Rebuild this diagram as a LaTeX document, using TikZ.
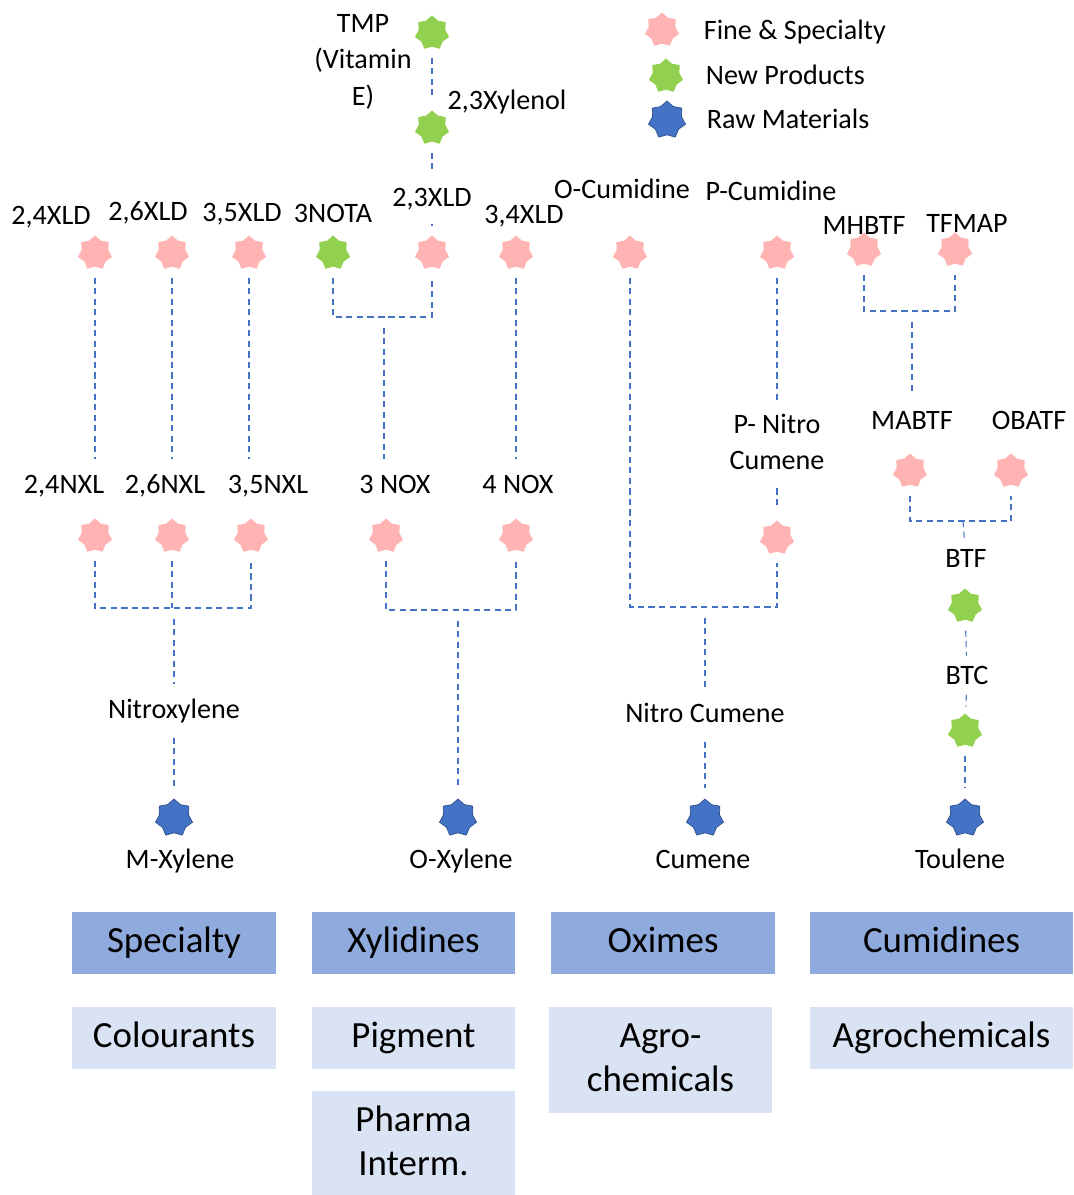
\documentclass[tikz,border=0pt]{standalone}
\usepackage{fontspec}
\setmainfont{Carlito}
\usetikzlibrary{shapes.geometric}
\definecolor{finepink}{HTML}{FFB3B3}
\definecolor{newgreen}{HTML}{92D050}
\definecolor{rawblue}{HTML}{4472C4}
\definecolor{rawedge}{HTML}{2F528F}
\definecolor{linkblue}{HTML}{4472C4}
\definecolor{boxdark}{HTML}{8FAADC}
\definecolor{boxlight}{HTML}{DAE3F3}

\begin{document}
\begin{tikzpicture}[x=0.02cm, y=-0.02cm,
    every node/.style={inner sep=2pt},
    fine/.style={star, star points=7, star point ratio=1.28, minimum size=0.7cm, inner sep=0pt, fill=finepink},
    newp/.style={fine, fill=newgreen},
    raw/.style={fine, minimum size=0.76cm, fill=rawblue, draw=rawedge, line width=0.4pt},
    lbl/.style={font=\fontsize{16}{20.7}\selectfont, align=center, text height=1.15em, text depth=0.25em},
    multi/.style={text height=},
    link/.style={draw=linkblue, line width=0.6pt, dash pattern=on 3.5pt off 2.5pt, shorten <=6pt, shorten >=6pt},
    grp/.style={fill=boxdark, minimum width=4.07cm, minimum height=1.24cm, font=\fontsize{21}{25}\selectfont, align=center, text height=1.28em, text depth=0.25em},
    market/.style={grp, fill=boxlight}]
    \useasboundingbox (0,0) rectangle (1073,1195);

    % legend
    \node[fine] (kF) at (662,30) {};
    \node[lbl, anchor=west] (kFt) at (700,32) {Fine \& Specialty};
    \node[newp] (kN) at (666,76) {};
    \node[lbl, anchor=west] (kNt) at (702,77) {New Products};
    \node[raw] (kR) at (667,120) {};
    \node[lbl, anchor=west] (kRt) at (703,121) {Raw Materials};

    % top
    \node[newp] (TMP) at (432,33) {};
    \node[lbl, multi] (TMPl) at (363,62) {TMP\\(Vitamin\\E)};
    \node[newp] (XOL) at (432,128) {};
    \node[lbl] (XOLl) at (507,102) {2,3Xylenol};

    % xylidines and cumidines
    \node[fine] (X24) at (95,253) {};
    \node[lbl] (X24l) at (51,217) {2,4XLD};
    \node[fine] (X26) at (172,253) {};
    \node[lbl] (X26l) at (148,213) {2,6XLD};
    \node[fine] (X35) at (249,253) {};
    \node[lbl] (X35l) at (242,214) {3,5XLD};
    \node[newp] (T3) at (333,253) {};
    \node[lbl] (T3l) at (333,215) {3NOTA};
    \node[fine] (X23) at (432,253) {};
    \node[lbl] (X23l) at (432,199) {2,3XLD};
    \node[fine] (X34) at (516,253) {};
    \node[lbl] (X34l) at (524,216) {3,4XLD};
    \node[fine] (OC) at (630,253) {};
    \node[lbl] (OCl) at (622,191) {O-Cumidine};
    \node[fine] (PC) at (777,253) {};
    \node[lbl] (PCl) at (771,193) {P-Cumidine};
    \node[fine] (MH) at (864,250) {};
    \node[lbl] (MHl) at (864,227) {MHBTF};
    \node[fine] (TF) at (955,250) {};
    \node[lbl] (TFl) at (967,225) {TFMAP};

    % nitro compounds
    \node[fine] (N24) at (95,536) {};
    \node[lbl] (N24l) at (64,486) {2,4NXL};
    \node[fine] (N26) at (172,536) {};
    \node[lbl] (N26l) at (165,486) {2,6NXL};
    \node[fine] (N35) at (251,536) {};
    \node[lbl] (N35l) at (268,486) {3,5NXL};
    \node[fine] (N3) at (386,536) {};
    \node[lbl] (N3l) at (395,486) {3 NOX};
    \node[fine] (N4) at (516,536) {};
    \node[lbl] (N4l) at (518,486) {4 NOX};
    \node[fine] (PN) at (777,538) {};
    \node[lbl, multi] (PNl) at (777,444) {P- Nitro\\Cumene};
    \node[fine] (MA) at (910,471) {};
    \node[lbl] (MAl) at (912,422) {MABTF};
    \node[fine] (OB) at (1011,471) {};
    \node[lbl] (OBl) at (1029,422) {OBATF};
    \node[newp] (BTF) at (965,606) {};
    \node[lbl] (BTFl) at (966,560) {BTF};
    \node[newp] (BTC) at (965,731) {};
    \node[lbl] (BTCl) at (967,677) {BTC};
    \node[lbl] (NXl) at (174,711) {Nitroxylene};
    \node[lbl] (NCl) at (705,715) {Nitro Cumene};

    % raw materials
    \node[raw] (MX) at (174,818) {};
    \node[lbl] (MXl) at (180,861) {M-Xylene};
    \node[raw] (OX) at (458,818) {};
    \node[lbl] (OXl) at (461,861) {O-Xylene};
    \node[raw] (CU) at (705,818) {};
    \node[lbl] (CUl) at (703,861) {Cumene};
    \node[raw] (TO) at (965,818) {};
    \node[lbl] (TOl) at (960,861) {Toulene};

    \coordinate (Xb) at (384,317);
    \coordinate (Nb) at (174,608);
    \coordinate (Ob) at (458,610);
    \coordinate (Cb) at (705,607);
    \coordinate (Mb) at (912,311);
    \coordinate (Bb) at (963,521);

    % links
    \draw[link] (TMP) -- (XOL);
    \draw[link] (XOL) -- (X23l);
    \draw[link] (X23l) -- (X23);
    \draw[link] (X24) -- (X24 |- N24l.north);
    \draw[link] (X26) -- (X26 |- N26l.north);
    \draw[link] (X35) -- (X35 |- N35l.north);
    \draw[link] (T3) |- (Xb) -| (X23);
    \draw[link] (Xb) -- (Xb |- N3l.north);
    \draw[link] (X34) -- (X34 |- N4l.north);
    \draw[link] (N24) |- (Nb) -| (N35);
    \draw[link, shorten >=0pt] (N26) -- (N26 |- Nb);
    \draw[link] (Nb) -- (NXl);
    \draw[link] (NXl) -- (MX);
    \draw[link] (N3) |- (Ob) -| (N4);
    \draw[link] (Ob) -- (OX);
    \draw[link] (OC) |- (Cb) -| (PN);
    \draw[link] (PC) -- (PC |- PNl.north);
    \draw[link] (PNl) -- (PN);
    \draw[link] (Cb) -- (NCl);
    \draw[link] (NCl) -- (CU);
    \draw[link] (MH) |- (Mb) -| (TF);
    \draw[link] (Mb) -- (MAl);
    \draw[link] (MA) |- (Bb) -| (OB);
    \draw[link, shorten <=0pt, shorten >=3pt] (Bb) -- (BTFl);
    \draw[link, shorten >=3pt] (BTF) -- (BTCl);
    \draw[link, shorten <=1pt, shorten >=4pt] (BTCl) -- (BTC);
    \draw[link] (BTC) -- (TO);

    % segments and markets
    \node[grp] (Gs) at (174,943) {Specialty};
    \node[grp] (Gx) at (413.5,943) {Xylidines};
    \node[grp, minimum width=4.48cm] (Go) at (663,943) {Oximes};
    \node[grp, minimum width=5.26cm] (Gc) at (941.5,943) {Cumidines};
    \node[market] (Mc) at (174,1038) {Colourants};
    \node[market] (Mp) at (413.5,1038) {Pigment};
    \node[market, multi, minimum width=4.46cm, minimum height=2.12cm] (Ma) at (660.5,1060) {Agro-\\chemicals};
    \node[market, minimum width=5.26cm] (Mg) at (941.5,1038) {Agrochemicals};
    \node[market, multi, minimum height=2.08cm] (Mh) at (413.5,1143) {Pharma\\Interm.};
\end{tikzpicture}
\end{document}
